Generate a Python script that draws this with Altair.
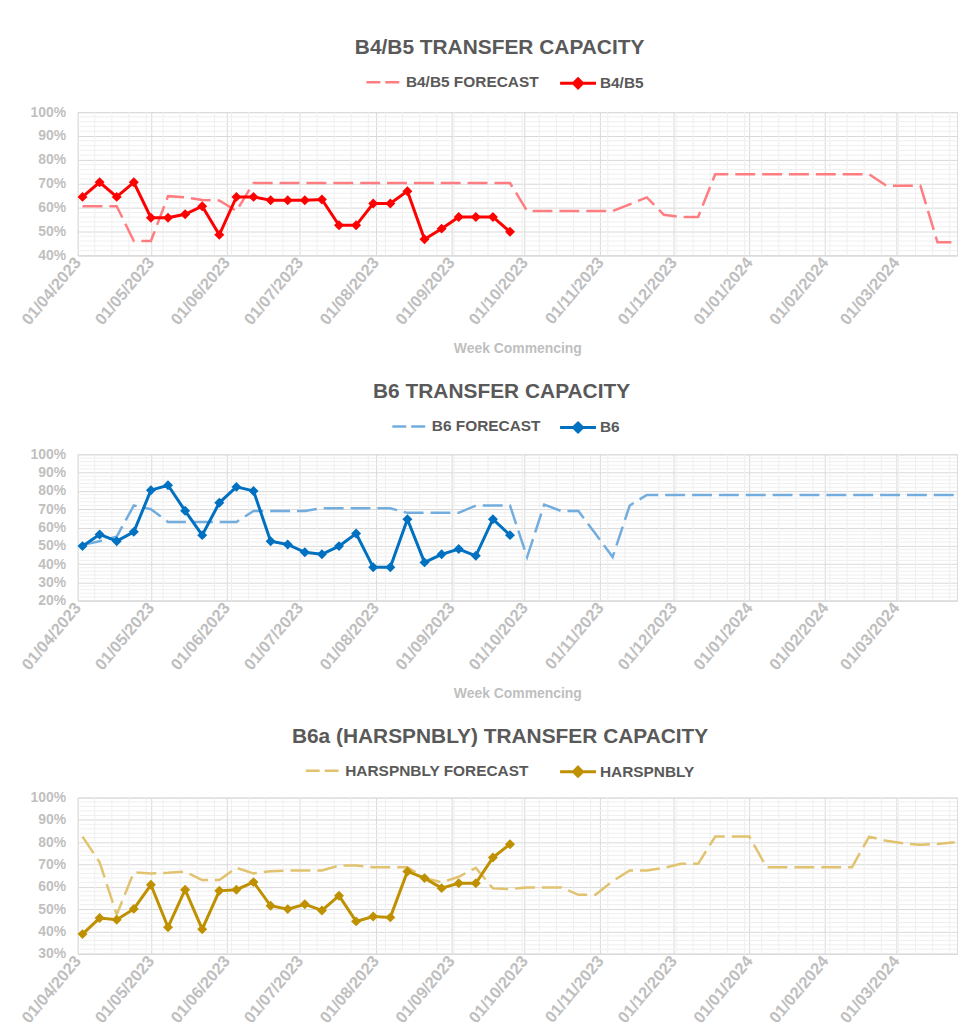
import altair as alt
import pandas as pd
import numpy as np

FONT = "Liberation Sans"
TITLE_COL = "#595959"
AXIS_COL = "#BFBFBF"

# ---- data (values in %) ----
week_start = "2023-04-03"
n_weeks = 52
n_actual = 26

b45_forecast = [60.6, 60.6, 60.6, 46.0, 46.0, 64.8, 64.3, 63.2, 63.0, 58.6,
                70.3, 70.3, 70.3, 70.3, 70.3, 70.3, 70.3, 70.3, 70.3, 70.3,
                70.3, 70.3, 70.3, 70.3, 70.3, 70.3, 58.6, 58.6, 58.6, 58.6,
                58.6, 58.6, 61.4, 64.3, 57.0, 56.1, 56.1, 74.0, 74.0, 74.0,
                74.0, 74.0, 74.0, 74.0, 74.0, 74.0, 74.0, 69.2, 69.2, 69.2,
                45.5, 45.5]
b45_actual = [64.5, 70.6, 64.5, 70.6, 55.8, 55.8, 57.2, 60.6, 48.6, 64.5,
              64.5, 63.1, 63.1, 63.1, 63.4, 52.6, 52.6, 61.7, 61.7, 66.9,
              46.8, 51.2, 56.1, 56.1, 56.1, 49.9]

b6_forecast = [50.5, 52.5, 55.0, 72.0, 70.0, 63.0, 63.0, 63.0, 63.0, 63.0,
               69.0, 69.0, 69.0, 69.0, 70.5, 70.5, 70.5, 70.5, 70.5, 68.0,
               68.0, 68.0, 68.0, 72.0, 72.0, 72.0, 43.8, 72.5, 69.0, 69.0,
               56.5, 43.8, 72.0, 77.8, 77.8, 77.8, 77.8, 77.8, 77.8, 77.8,
               77.8, 77.8, 77.8, 77.8, 77.8, 77.8, 77.8, 77.8, 77.8, 77.8,
               77.8, 77.8]
b6_actual = [49.8, 56.2, 52.5, 57.6, 80.4, 83.1, 69.1, 55.8, 73.5, 82.2,
             80.0, 52.5, 50.7, 46.4, 45.3, 49.8, 56.7, 38.2, 38.2, 64.5,
             40.9, 45.3, 48.2, 44.5, 64.5, 55.8]

har_forecast = [82.5, 71.0, 47.5, 66.5, 66.0, 66.3, 66.8, 63.0, 63.0, 68.5,
                66.0, 67.0, 67.3, 67.3, 67.3, 69.5, 69.5, 68.8, 68.8, 68.8,
                64.0, 62.0, 64.5, 68.5, 59.3, 59.0, 59.7, 59.7, 59.7, 56.4,
                56.4, 62.5, 67.3, 67.3, 68.5, 70.3, 70.3, 82.5, 82.5, 82.5,
                68.8, 68.8, 68.8, 68.8, 68.8, 68.8, 82.5, 80.6, 79.5, 78.8,
                79.2, 80.0]
har_actual = [38.8, 46.0, 45.2, 50.1, 60.9, 41.9, 58.7, 41.0, 58.2, 58.7,
              62.1, 51.5, 50.0, 52.2, 49.4, 56.0, 44.5, 46.7, 46.3, 66.9,
              63.9, 59.4, 61.6, 61.6, 73.1, 79.1]

dates = pd.date_range(week_start, periods=n_weeks, freq="7D")
date_str = [d.strftime("%Y-%m-%dT00:00:00") for d in dates]

month_ticks = [alt.DateTime(year=y, month=m, date=1)
               for y, m in [(2023, 4), (2023, 5), (2023, 6), (2023, 7), (2023, 8),
                            (2023, 9), (2023, 10), (2023, 11), (2023, 12),
                            (2024, 1), (2024, 2), (2024, 3)]]
x_dom = [alt.DateTime(year=2023, month=4, date=1),
         alt.DateTime(year=2024, month=3, date=26)]
minor_x = [d.strftime("%Y-%m-%dT00:00:00")
           for d in pd.date_range("2023-04-01", "2024-03-26", freq="7D")]

W = 884


def panel(title, fc_name, act_name, fc_vals, act_vals, fc_col, act_col,
          ymin, h, xtitle, fc_leg_x, leg_y, title_off, title_dx):
    df_fc = pd.DataFrame({"date": date_str, "value": np.array(fc_vals) / 100,
                          "series": fc_name})
    df_act = pd.DataFrame({"date": date_str[:n_actual],
                           "value": np.array(act_vals) / 100,
                           "series": act_name})
    major_y = [round(v, 2) for v in np.arange(ymin, 1.0001, 0.1)]
    minor_y = [round(v, 2) for v in np.arange(ymin, 1.0001, 0.02)
               if abs(round(v * 10) - v * 10) > 1e-6]

    yscale = alt.Scale(domain=[ymin, 1.0], nice=False, zero=False)
    xscale = alt.Scale(domain=x_dom, nice=False)
    yaxis = alt.Axis(values=major_y, format=".0%", grid=True, gridColor="#D9D9D9",
                     domain=False, ticks=False, labelColor=AXIS_COL, labelFont=FONT,
                     labelFontSize=14, labelFontWeight="bold", labelPadding=12,
                     title=None)
    xaxis = alt.Axis(values=month_ticks, format="%d/%m/%Y", labelAngle=310,
                     grid=True, gridColor="#D9D9D9", domainColor="#D9D9D9",
                     ticks=False, labelColor=AXIS_COL, labelFont=FONT,
                     labelFontSize=16.5, labelFontWeight="bold", labelPadding=4,
                     title=xtitle, titleColor=AXIS_COL, titleFont=FONT,
                     titleFontSize=14, titleFontWeight="bold", titlePadding=14)

    minor_h = alt.Chart(pd.DataFrame({"v": minor_y})).mark_rule(
        color="#EFEFEF", strokeWidth=1).encode(
        y=alt.Y("v:Q", scale=yscale, axis=yaxis))
    minor_v = alt.Chart(pd.DataFrame({"d": minor_x})).mark_rule(
        color="#EFEFEF", strokeWidth=1).encode(
        x=alt.X("d:T", scale=xscale, axis=xaxis))

    fc_leg = alt.Legend(orient="none", legendX=fc_leg_x, legendY=leg_y,
                        direction="horizontal",
                        title=None, symbolType="stroke", symbolSize=1250,
                        symbolStrokeWidth=2.5, symbolDash=[14, 5],
                        symbolStrokeColor=fc_col, labelFont=FONT, labelFontSize=15.5,
                        labelFontWeight="bold", labelColor=TITLE_COL, labelOffset=3,
                        labelLimit=400)
    act_leg = alt.Legend(orient="none", legendX=483, legendY=leg_y,
                         direction="horizontal", title=None,
                         symbolType="M-1,0H1M0,-0.25L0.25,0L0,0.25L-0.25,0Z",
                         symbolSize=1300, symbolStrokeWidth=3,
                         symbolStrokeColor=act_col, symbolFillColor=act_col,
                         symbolOpacity=1, labelFont=FONT, labelFontSize=15.5,
                         labelFontWeight="bold", labelColor=TITLE_COL, labelOffset=2,
                         labelLimit=400)

    x_enc = alt.X("date:T", scale=xscale, axis=xaxis)
    y_enc = alt.Y("value:Q", scale=yscale, axis=yaxis)

    fc_line = alt.Chart(df_fc).mark_line(strokeDash=[20, 7], strokeWidth=2.5).encode(
        x=x_enc, y=y_enc,
        color=alt.Color("series:N", scale=alt.Scale(domain=[fc_name], range=[fc_col]),
                        legend=fc_leg))
    act_color = alt.Color("series:N", scale=alt.Scale(domain=[act_name], range=[act_col]),
                          legend=act_leg)
    act_line = alt.Chart(df_act).mark_line(strokeWidth=3).encode(
        x=x_enc, y=y_enc, color=act_color)
    act_pts = alt.Chart(df_act).mark_point(shape="diamond", filled=True, size=100,
                                          opacity=1).encode(
        x=x_enc, y=y_enc, color=act_color)
    act = alt.layer(act_line, act_pts)

    return alt.layer(minor_h, minor_v, fc_line, act).resolve_scale(
        color="independent").properties(
        width=W, height=h,
        title=alt.TitleParams(title, font=FONT, fontSize=21, fontWeight="bold",
                              color=TITLE_COL, anchor="middle", frame="bounds",
                              offset=title_off, dx=title_dx))


p1 = panel("B4/B5 TRANSFER CAPACITY", "B4/B5 FORECAST", "B4/B5",
           b45_forecast, b45_actual, "#FF7C80", "#FF0000", 0.4, 144,
           "Week Commencing", 289, -49, 5, 10.5)
p2 = panel("B6 TRANSFER CAPACITY", "B6 FORECAST", "B6",
           b6_forecast, b6_actual, "#72ADDE", "#0070C0", 0.2, 147,
           "Week Commencing", 315, -47, 6, 12.5)
p3 = panel("B6a (HARSPNBLY) TRANSFER CAPACITY", "HARSPNBLY FORECAST", "HARSPNBLY",
           har_forecast, har_actual, "#E1C26E", "#BF9000", 0.3, 157,
           "", 228, -46, 5, 11)

chart = alt.vconcat(p1, p2, p3, spacing=23).properties(
    padding={"left": 10, "top": 26, "right": 5, "bottom": 5}
).configure_view(stroke=None).configure(background="white")

chart.save("out.html", embed_options={"renderer": "svg", "actions": False})
